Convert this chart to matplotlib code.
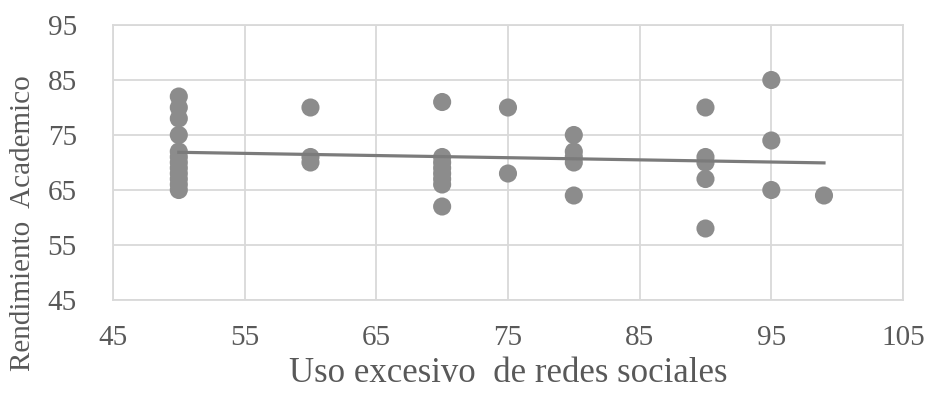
import matplotlib

matplotlib.use("Agg")
import matplotlib.pyplot as plt
import numpy as np

# Uso excesivo de redes sociales (x) vs Rendimiento Academico (y)
uso_redes = [50] * 12 + [60] * 3 + [70] * 8 + [75] * 2 + [80] * 5 + [90] * 5 + [95] * 3 + [99]
rendimiento = (
    [82, 80, 78, 75, 72, 71, 70, 69, 68, 67, 66, 65]
    + [80, 71, 70]
    + [81, 71, 70, 69, 68, 67, 66, 62]
    + [80, 68]
    + [75, 72, 71, 70, 64]
    + [80, 71, 70, 67, 58]
    + [85, 74, 65]
    + [64]
)
x_ticks = [45, 55, 65, 75, 85, 95, 105]
y_ticks = [45, 55, 65, 75, 85, 95]

plt.rcParams["font.family"] = ["Liberation Serif", "DejaVu Serif"]
TEXT = "#595959"

fig = plt.figure(figsize=(9.29, 4.08), dpi=100)
ax = fig.add_axes([0.1216, 0.2647, 0.8504, 0.674])

x = np.array(uso_redes, dtype=float)
y = np.array(rendimiento, dtype=float)
ax.scatter(x, y, s=170, color="#8c8c8c", edgecolors="none", zorder=3)

# linear trendline over the data range
slope, intercept = np.polyfit(x, y, 1)
xs = np.array([x.min(), x.max()])
ax.plot(xs, slope * xs + intercept, color="#7b7b7b", lw=2.3, zorder=4)

ax.set_xlim(45, 105)
ax.set_ylim(45, 95)
ax.set_xticks(x_ticks)
ax.set_yticks(y_ticks)
ax.grid(True, color="#d9d9d9", lw=1.3, zorder=0)
ax.set_axisbelow(True)
for sp in ax.spines.values():
    sp.set_color("#d9d9d9")
    sp.set_linewidth(1.3)
ax.tick_params(length=0, labelsize=21, labelcolor=TEXT)
ax.tick_params(axis="y", pad=26)
ax.tick_params(axis="x", pad=18)

ax.set_xlabel("Uso excesivo  de redes sociales", fontsize=25, color=TEXT, labelpad=4)
ax.set_ylabel("Rendimiento  Academico", fontsize=21, color=TEXT)
ax.yaxis.set_label_coords(-0.098, 0.28)

fig.savefig("out.png", dpi=100)
